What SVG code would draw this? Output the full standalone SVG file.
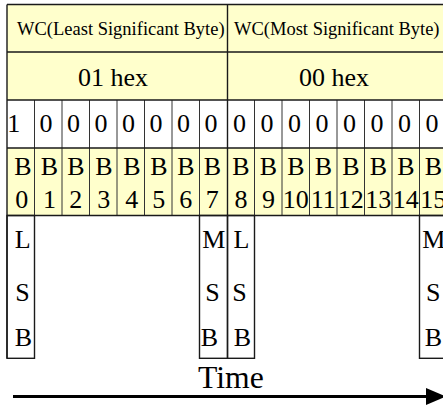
<svg xmlns="http://www.w3.org/2000/svg" width="443" height="406" viewBox="0 0 443 406">
<defs>
<style>
.y{fill:#ffffcc}
.w{fill:#ffffff}
.ln{stroke:#1a1a1a;stroke-width:1.4;fill:none}
.li{stroke:#333;stroke-width:1;fill:none}
text{font-family:"Liberation Serif","Times New Roman",serif;fill:#000}
.hd{font-size:18.5px}
.hx{font-size:26px}
.bt{font-size:26px}
.c{text-anchor:middle}
</style>
<marker id="ah" viewBox="0 0 10 10" refX="10" refY="5" markerWidth="6" markerHeight="6" markerUnits="userSpaceOnUse" orient="auto">
<path d="M0,0 L10,5 L0,10 z" fill="#000"/>
</marker>
</defs>
<rect width="443" height="406" fill="#fff"/>

<g id="hdr-lsb">
<rect class="y" x="7" y="4.5" width="220.5" height="47.5"/>
<text class="hd" x="17" y="35">WC(Least Significant Byte)</text>
</g>
<g id="hdr-msb">
<rect class="y" x="227.5" y="4.5" width="220" height="47.5"/>
<text class="hd" x="234" y="35">WC(Most Significant Byte)</text>
</g>
<g id="hex-lsb">
<rect class="y" x="7" y="52" width="220.5" height="48"/>
<text class="hx" x="78" y="86">01 hex</text>
</g>
<g id="hex-msb">
<rect class="y" x="227.5" y="52" width="220" height="48"/>
<text class="hx" x="299" y="86">00 hex</text>
</g>

<g id="bits">
<rect class="w" x="7" y="100" width="440" height="48"/>
<g class="bt">
<text x="7.3" y="131.7">1</text>
<text x="39.5" y="131.7">0</text>
<text x="67" y="131.7">0</text>
<text x="94.5" y="131.7">0</text>
<text x="122" y="131.7">0</text>
<text x="149.5" y="131.7">0</text>
<text x="177" y="131.7">0</text>
<text x="204.5" y="131.7">0</text>
<text x="233" y="131.7">0</text>
<text x="260.5" y="131.7">0</text>
<text x="288" y="131.7">0</text>
<text x="315.5" y="131.7">0</text>
<text x="343" y="131.7">0</text>
<text x="370.5" y="131.7">0</text>
<text x="398" y="131.7">0</text>
<text x="425.5" y="131.7">0</text>
</g>
</g>

<g id="bit-names">
<rect class="y" x="7" y="148" width="440" height="67.5"/>
<g class="bt c">
<text x="22.8" y="175">B</text><text x="21.8" y="207.7">0</text>
<text x="49.5" y="175">B</text><text x="49.5" y="207.7">1</text>
<text x="75.8" y="175">B</text><text x="75.8" y="207.7">2</text>
<text x="103.8" y="175">B</text><text x="103.8" y="207.7">3</text>
<text x="131.8" y="175">B</text><text x="131.8" y="207.7">4</text>
<text x="158.8" y="175">B</text><text x="158.8" y="207.7">5</text>
<text x="185.8" y="175">B</text><text x="185.8" y="207.7">6</text>
<text x="212.3" y="175">B</text><text x="212.3" y="207.7">7</text>
<text x="241" y="175">B</text><text x="241" y="207.7">8</text>
<text x="268.5" y="175">B</text><text x="268.5" y="207.7">9</text>
<text x="295.8" y="175">B</text><text x="295.8" y="207.7">10</text>
<text x="323.3" y="175">B</text><text x="323.3" y="207.7">11</text>
<text x="350.8" y="175">B</text><text x="350.8" y="207.7">12</text>
<text x="378.3" y="175">B</text><text x="378.3" y="207.7">13</text>
<text x="405.8" y="175">B</text><text x="405.8" y="207.7">14</text>
<text x="433.3" y="175">B</text><text x="433.3" y="207.7">15</text>
</g>
</g>

<g id="lsb-byte0">
<rect class="w ln" x="7" y="215.5" width="27.5" height="142.8"/>
<g class="bt c"><text x="22.8" y="247.5">L</text><text x="22.5" y="300.5">S</text><text x="23.3" y="345.5">B</text></g>
</g>
<g id="msb-byte0">
<rect class="w ln" x="199.5" y="215.5" width="28" height="142.8"/>
<g class="bt c"><text x="213.8" y="247.5">M</text><text x="212.5" y="300.5">S</text><text x="209.5" y="345.5">B</text></g>
</g>
<g id="lsb-byte1">
<rect class="w ln" x="227.5" y="215.5" width="27" height="142.8"/>
<g class="bt c"><text x="241.5" y="247.5">L</text><text x="239.5" y="300.5">S</text><text x="242.5" y="345.5">B</text></g>
</g>
<g id="msb-byte1">
<rect class="w ln" x="419.5" y="215.5" width="27.5" height="142.8"/>
<g class="bt c"><text x="433.8" y="247.5">M</text><text x="433.3" y="300.5">S</text><text x="433.3" y="345.5">B</text></g>
</g>

<g id="grid">
<path class="li" d="M34.5,100V215.5M62,100V215.5M89.5,100V215.5M117,100V215.5M144.5,100V215.5M172,100V215.5M199.5,100V215.5M254.5,100V215.5M282,100V215.5M309.5,100V215.5M337,100V215.5M364.5,100V215.5M392,100V215.5M419.5,100V215.5"/>
<path class="ln" d="M7,4.5H447M7,52H447M7,100H447M7,148H447M7,215.5H447M7,4.5V358.3M227.5,4.5V215.5M447,4.5V215.5"/>
</g>

<g id="time-axis">
<text x="198" y="388" style="font-size:31.7px">Time</text>
<line x1="13" y1="396.5" x2="432" y2="396.5" stroke="#000" stroke-width="3"/>
<path d="M426,388 L446,396.5 L426,405 z" fill="#000"/>
</g>
</svg>
